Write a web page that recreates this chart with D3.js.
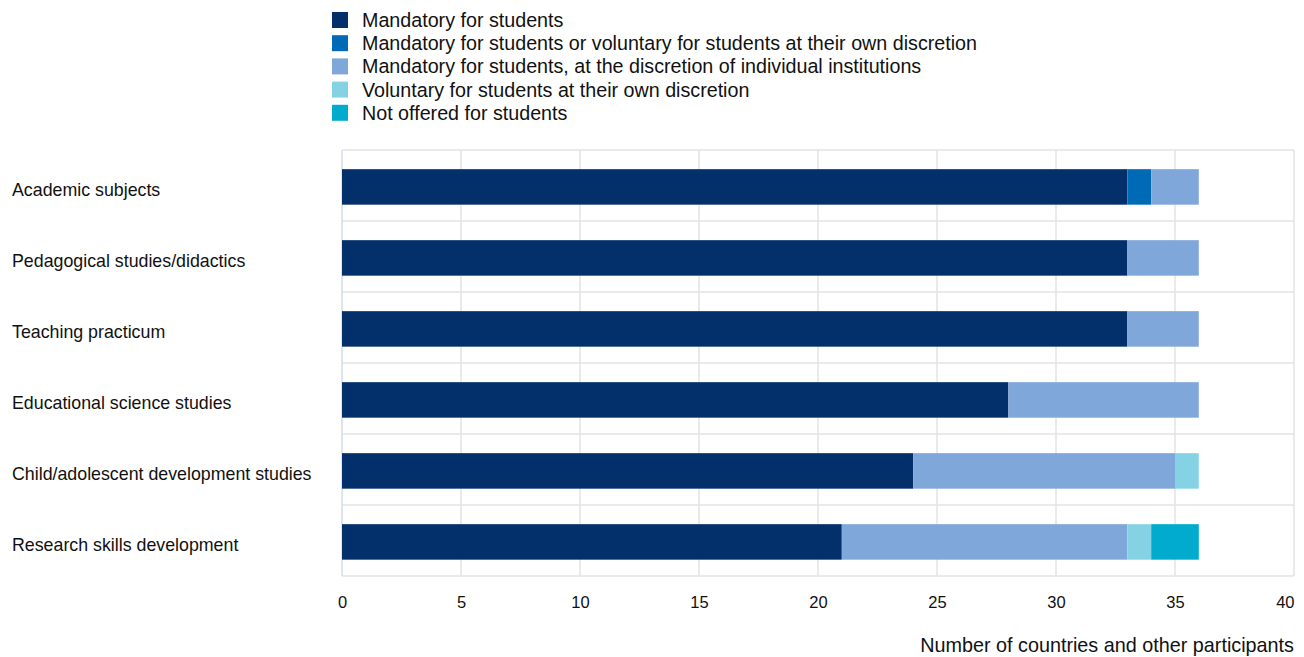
<!DOCTYPE html>
<html>
<head>
<meta charset="utf-8">
<script src="https://cdn.jsdelivr.net/npm/d3@7"></script>
<style>
  body { margin: 0; background: #fff; }
  svg text { font-family: "Liberation Sans", Arial, sans-serif; fill: #111; }
</style>
</head>
<body>
<svg width="1304" height="657"></svg>
<script>
var categories = [
  'Academic subjects',
  'Pedagogical studies/didactics',
  'Teaching practicum',
  'Educational science studies',
  'Child/adolescent development studies',
  'Research skills development'
];

var seriesNames = [
  'Mandatory for students',
  'Mandatory for students or voluntary for students at their own discretion',
  'Mandatory for students, at the discretion of individual institutions',
  'Voluntary for students at their own discretion',
  'Not offered for students'
];

// one array per series, in category order
var mandatory        = [33, 33, 33, 28, 24, 21];
var mandatoryOrVol   = [1, 0, 0, 0, 0, 0];
var mandatoryInst    = [2, 3, 3, 8, 11, 12];
var voluntary        = [0, 0, 0, 0, 1, 1];
var notOffered       = [0, 0, 0, 0, 0, 2];

var xTicks = [0, 5, 10, 15, 20, 25, 30, 35, 40];
var xTitle = 'Number of countries and other participants';

var colors = ['#03306b', '#006ab7', '#80a7d9', '#86d2e5', '#00abce'];

var svg = d3.select('svg');

var margin = {top: 150, right: 10, bottom: 81, left: 342};
var width = 1304 - margin.left - margin.right,
  height = 657 - margin.top - margin.bottom;

var table = categories.map(function(c, i) {
  return {
    cat: c,
    s0: mandatory[i],
    s1: mandatoryOrVol[i],
    s2: mandatoryInst[i],
    s3: voluntary[i],
    s4: notOffered[i]
  };
});

var stack = d3.stack().keys(['s0', 's1', 's2', 's3', 's4']);
var layers = stack(table);

var x = d3.scaleLinear().domain([0, 40]).range([0, width]);
var y = d3.scaleBand().domain(categories).range([0, height])
  .paddingInner(0.5).paddingOuter(0.25).align(0.54);

var g = svg.append('g').attr('transform', 'translate(' + margin.left + ',' + margin.top + ')');

/* ---
GRID
--- */
var bounds = d3.range(categories.length + 1).map(function(i) { return i * height / categories.length; });

g.append('g').selectAll('line')
  .data(bounds)
  .enter()
  .append('line')
  .attr('x1', 0)
  .attr('x2', width)
  .attr('y1', function(d) { return d; })
  .attr('y2', function(d) { return d; })
  .attr('stroke', '#e3e3e3')
  .attr('stroke-width', 1.5);

g.append('g').selectAll('line')
  .data(xTicks.slice(1))
  .enter()
  .append('line')
  .attr('x1', function(d) { return x(d); })
  .attr('x2', function(d) { return x(d); })
  .attr('y1', 0)
  .attr('y2', height)
  .attr('stroke', '#e3e3e3')
  .attr('stroke-width', 1.5);

g.append('line')
  .attr('x1', 0).attr('x2', 0)
  .attr('y1', 0).attr('y2', height)
  .attr('stroke', '#d3dbee')
  .attr('stroke-width', 1.5);

/* ---
BARS
--- */
g.append('g').selectAll('g')
  .data(layers)
  .enter()
  .append('g')
  .attr('fill', function(d, i) { return colors[i]; })
  .selectAll('rect')
  .data(function(d) { return d; })
  .enter()
  .append('rect')
  .attr('x', function(d) { return x(d[0]); })
  .attr('width', function(d) { return x(d[1]) - x(d[0]); })
  .attr('y', function(d) { return y(d.data.cat); })
  .attr('height', y.bandwidth());

/* ---
AXES
--- */
var xAxis = g.append('g')
  .attr('transform', 'translate(0,' + height + ')')
  .call(d3.axisBottom(x).tickValues(xTicks).tickSize(0).tickPadding(20));
xAxis.select('.domain').remove();
xAxis.selectAll('text')
  .style('font-size', '16.5px')
  .attr('fill', '#111')
  .attr('text-anchor', function(d) { return d === 40 ? 'end' : 'middle'; });

g.append('text')
  .attr('x', width)
  .attr('y', height + 76)
  .attr('text-anchor', 'end')
  .style('font-size', '19.8px')
  .text(xTitle);

svg.append('g').selectAll('text')
  .data(categories)
  .enter()
  .append('text')
  .attr('x', 12)
  .attr('y', function(d) { return margin.top + y(d) + y.bandwidth() / 2; })
  .attr('dy', '0.5em')
  .style('font-size', '17.8px')
  .text(function(d) { return d; });

/* ---
LEGEND
--- */
var legend = svg.append('g').attr('transform', 'translate(332,12)');
var item = legend.selectAll('g')
  .data(seriesNames)
  .enter()
  .append('g')
  .attr('transform', function(d, i) { return 'translate(0,' + (i * 23.2) + ')'; });

item.append('rect')
  .attr('width', 16)
  .attr('height', 16)
  .attr('fill', function(d, i) { return colors[i]; });

item.append('text')
  .attr('x', 30)
  .attr('y', 8)
  .attr('dy', '0.35em')
  .style('font-size', '19.7px')
  .text(function(d) { return d; });
</script>
</body>
</html>
